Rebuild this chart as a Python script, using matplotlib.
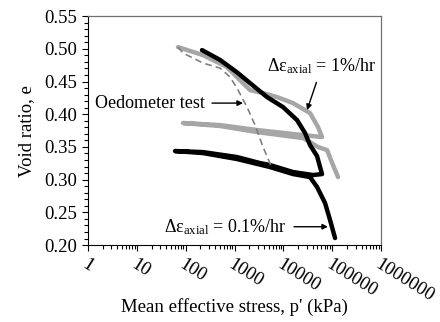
import numpy as np
import matplotlib
matplotlib.use("Agg")
import matplotlib.pyplot as plt
from matplotlib.ticker import MultipleLocator, LogLocator, NullFormatter

plt.rcParams['font.family'] = ['Liberation Serif', 'DejaVu Serif']
plt.rcParams['mathtext.fontset'] = 'custom'
plt.rcParams['mathtext.rm'] = 'Liberation Serif'
plt.rcParams['mathtext.it'] = 'Liberation Serif:italic'

# 0.1 %/hr test (black): loading, unloading, reloading, further loading
p_slow = [216, 505, 1125, 2078, 4633, 9846, 19060, 27800, 35180, 48960, 56370, 61940,
          40530, 15780, 5337, 3328, 1125, 226, 60.5,
          226, 1125, 5337, 15780, 35180, 48960, 71420, 90400, 114400]
e_slow = [0.498, 0.483, 0.464, 0.4476, 0.4262, 0.4109, 0.391, 0.3712, 0.3528, 0.336, 0.3192, 0.3085,
          0.307, 0.3116, 0.3223, 0.3253, 0.3345, 0.3421, 0.3437,
          0.3406, 0.3315, 0.3192, 0.3085, 0.3039, 0.2887, 0.2642, 0.2382, 0.2107]

# 1 %/hr test (grey)
p_fast = [69.7, 226, 703, 1125, 2078, 3835, 7430, 15780, 35180, 51320, 61940,
          25290, 2891, 505, 88.2,
          505, 2891, 25290, 35180, 51320, 78500, 104100, 131800]
e_fast = [0.5026, 0.4904, 0.4721, 0.4568, 0.4369, 0.4323, 0.4262, 0.417, 0.4017, 0.3804, 0.3651,
          0.3681, 0.3758, 0.3834, 0.3865,
          0.382, 0.3727, 0.3635, 0.3574, 0.3498, 0.3452, 0.322, 0.3039]

# oedometer test (dashed)
p_oed = [69.7, 88.2, 226, 505, 809, 1125, 1803, 2630, 3835, 5865]
e_oed = [0.5026, 0.4935, 0.4782, 0.4705, 0.4568, 0.440, 0.4109, 0.3834, 0.3498, 0.3177]

x_ticks = [1, 10, 100, 1000, 10000, 100000, 1000000]
x_tick_labels = ['1', '10', '100', '1000', '10000', '100000', '1000000']

fig = plt.figure(figsize=(4.4, 3.22), dpi=100)
ax = fig.add_axes([0.2, 0.239, 0.666, 0.711])

ax.plot(p_fast, e_fast, color='#a6a6a6', lw=3.2, solid_capstyle='round', solid_joinstyle='round')
ax.plot(p_slow, e_slow, color='black', lw=3.2, solid_capstyle='round', solid_joinstyle='round')
ax.plot(p_oed, e_oed, color='#808080', lw=1.2, ls=(0, (4, 2.5)))

ax.set_xscale('log')
ax.set_xlim(1, 1e6)
ax.set_ylim(0.20, 0.55)
ax.set_xticks(x_ticks)
ax.set_xticklabels(x_tick_labels, rotation=-32, ha='left', va='top', rotation_mode='anchor')
ax.xaxis.set_minor_locator(LogLocator(base=10, subs=np.arange(2, 10), numticks=20))
ax.xaxis.set_minor_formatter(NullFormatter())
ax.yaxis.set_major_locator(MultipleLocator(0.05))
ax.yaxis.set_minor_locator(MultipleLocator(0.01))
ax.yaxis.set_major_formatter(plt.FormatStrFormatter('%.2f'))
ax.tick_params(which='major', direction='out', length=4, width=0.8, labelsize=13.5)
ax.tick_params(which='minor', direction='out', length=3, width=0.8)
ax.tick_params(axis='x', which='major', pad=4)

for side in ['top', 'right']:
    ax.spines[side].set_color('#707070')
    ax.spines[side].set_linewidth(0.9)

ax.set_xlabel("Mean effective stress, p' (kPa)", fontsize=13.5)
ax.xaxis.set_label_coords(0.5, -0.232)
ax.set_ylabel('Void ratio, e', fontsize=13.5)
ax.yaxis.set_label_coords(-0.18, 0.5)

arrow = dict(arrowstyle='-|>', color='black', lw=1.0, mutation_scale=8, shrinkA=3, shrinkB=0)
ax.annotate('Oedometer test', xy=(1494, 0.417), xytext=(249, 0.417),
            ha='right', va='center', fontsize=13, arrowprops=arrow)
ax.annotate(r'Δε$_{\mathrm{axial}}$ = 1%/hr', xy=(30560, 0.4063), xytext=(61940, 0.474),
            ha='center', va='center', fontsize=13, arrowprops=arrow)
ax.annotate(r'Δε$_{\mathrm{axial}}$ = 0.1%/hr', xy=(82000, 0.228), xytext=(11890, 0.228),
            ha='right', va='center', fontsize=13, arrowprops=arrow)

fig.savefig('out.png', dpi=100)
